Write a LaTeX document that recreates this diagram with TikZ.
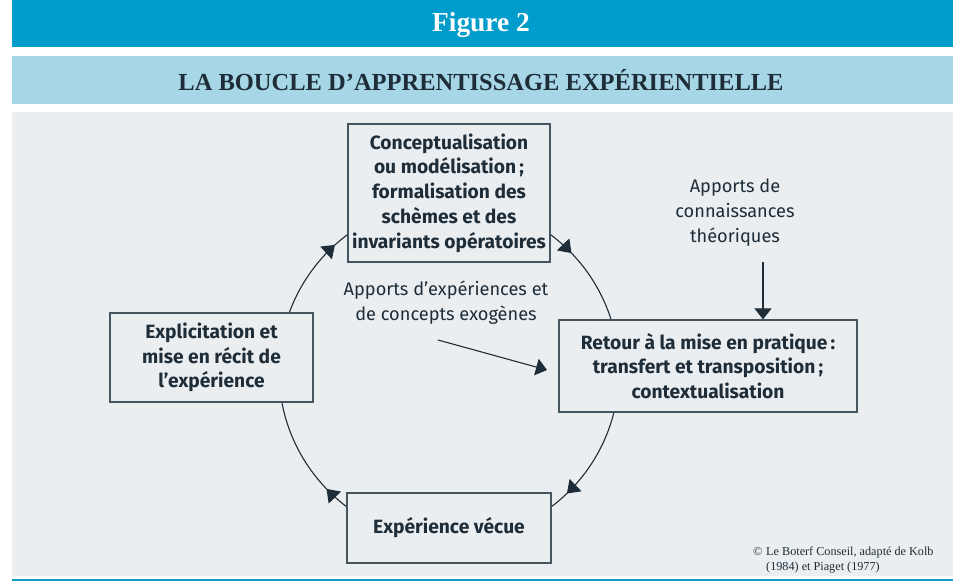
\documentclass[tikz,border=0pt]{standalone}
\usepackage{fontspec}
\setmainfont{Liberation Serif}
\newfontfamily\boxfont{Fira Sans}
\usetikzlibrary{arrows.meta,decorations.markings}
\definecolor{darkblue}{HTML}{009CCB}
\definecolor{lightblue}{HTML}{A7D7E7}
\definecolor{panel}{HTML}{EAEEF1}
\definecolor{ink}{HTML}{1E2D38}
\definecolor{frame}{HTML}{46545E}
\definecolor{tealline}{HTML}{0B9DC3}
\begin{document}
\begin{tikzpicture}[x=1pt,y=1pt,
  box/.style={draw=frame, line width=1.2pt, fill=panel, text=ink,
    font=\boxfont\bfseries\fontsize{19.2}{24.7}\selectfont, align=center, inner sep=0pt},
  note/.style={text=ink, font=\boxfont\fontsize{18.2}{25}\selectfont, align=center, inner sep=0pt},
  title/.style={font=\bfseries\fontsize{27.4}{30}\selectfont, inner sep=0pt},
  subtitle/.style={text=ink, font=\bfseries\fontsize{24.5}{28}\selectfont, inner sep=0pt},
  credit/.style={text=ink, font=\fontsize{12.2}{15}\selectfont, inner sep=0pt, anchor=base west},
  link/.style={draw=ink, line width=1.1pt},
  tip/.style={-{Triangle[length=11pt,width=17pt]}},
  loopmarks/.style={postaction={decorate}, decoration={markings,
    mark=at position 0.128 with {\arrow{Triangle[length=12pt,width=17pt]}},
    mark=at position 0.378 with {\arrow{Triangle[length=12pt,width=17pt]}},
    mark=at position 0.633 with {\arrow{Triangle[length=12pt,width=17pt]}},
    mark=at position 0.878 with {\arrow{Triangle[length=12pt,width=17pt]}}}}]
\useasboundingbox (0,0) rectangle (961,588);
% bands
\fill[darkblue] (12,541) rectangle (953,588);
\fill[lightblue] (12,484) rectangle (953,532);
\fill[panel] (12,12) rectangle (953,476);
\draw[tealline, line width=2pt] (12,8) -- (953,8);
\node[title, text=white] (fig) at (481,563) {Figure 2};
\node[subtitle] (sub) at (481,508) {LA BOUCLE D’APPRENTISSAGE EXPÉRIENTIELLE};
% cycle
\coordinate (c) at (449,217);
\draw[link, loopmarks] (c) ++(0:170) arc[start angle=0, end angle=-360, radius=170];
% boxes
\node[box, minimum width=202pt, minimum height=138pt] (concept) at (449,395)
  {Conceptualisation\\ou modélisation\,;\\formalisation des\\schèmes et des\\invariants opératoires};
\node[box, minimum width=203pt, minimum height=89pt] (explic) at (211.5,230.5)
  {Explicitation et\\mise en récit de\\l’expérience};
\node[box, minimum width=298pt, minimum height=92pt] (retour) at (708,222)
  {Retour à la mise en pratique\kern3pt:\\transfert et transposition\,;\\contextualisation};
\node[box, minimum width=204pt, minimum height=70pt] (vecue) at (449,60)
  {Expérience vécue};
% inputs
\node[note] (theo) at (735,375) {Apports de\\connaissances\\théoriques};
\coordinate (theoarrow) at (763,326);
\draw[link, tip] (theoarrow) -- (theoarrow |- retour.north);
\node[note] (exo) at (446,285) {Apports d’expériences et\\de concepts exogènes};
\coordinate (exostart) at (438,248);
\coordinate (exoend) at (547,218);
\draw[link, tip] (exostart) -- (exoend);
% credit
\node[credit] (cr1) at (753,32) {\makebox[13pt][l]{©}Le Boterf Conseil, adapté de Kolb};
\node[credit] (cr2) at (766,17) {(1984) et Piaget (1977)};
\end{tikzpicture}
\end{document}
